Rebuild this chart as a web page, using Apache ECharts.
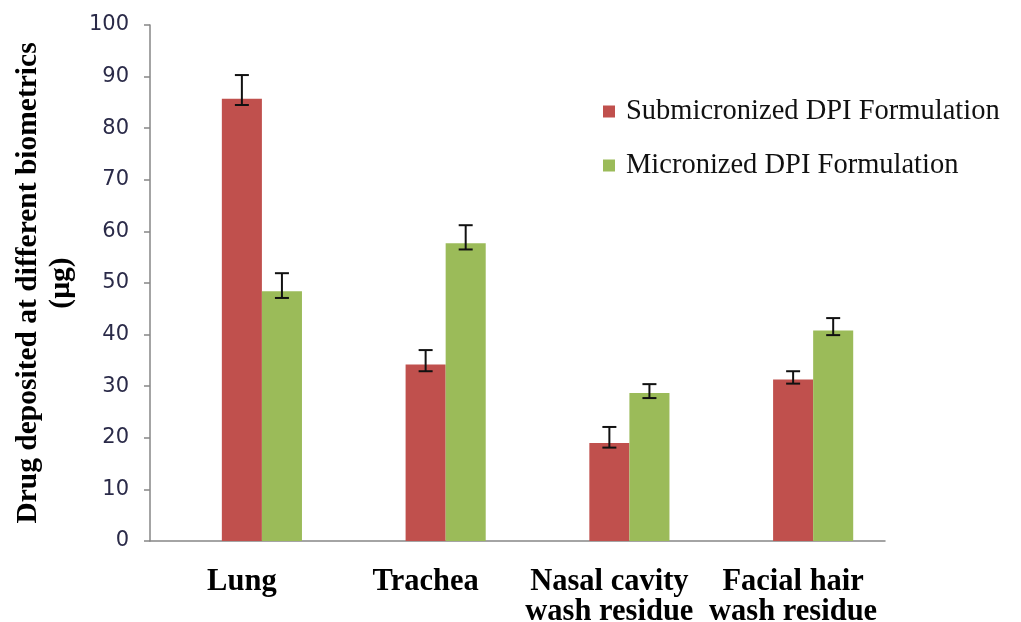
<!DOCTYPE html>
<html lang="en">
<head>
    <meta charset="UTF-8">
    <title>Drug deposition</title>
    <script src="https://cdn.jsdelivr.net/npm/echarts@6/dist/echarts.min.js"></script>
    <style>
        body { margin: 0; padding: 0; background: #fff; }
        #chart { width: 1021px; height: 622px; }
    </style>
</head>
<body>
<div id="chart"></div>
<script>
    const categories = ['Lung', 'Trachea', 'Nasal cavity\nwash residue', 'Facial hair\nwash residue'];

    const subValues = [85.7, 34.2, 19.0, 31.3];
    const subLow = [84.5, 32.9, 18.1, 30.5];
    const subHigh = [90.3, 37.0, 22.1, 32.9];

    const micValues = [48.4, 57.7, 28.7, 40.8];
    const micLow = [47.1, 56.5, 27.7, 39.9];
    const micHigh = [51.9, 61.2, 30.4, 43.2];

    const yTicks = [0, 10, 20, 30, 40, 50, 60, 70, 80, 90, 100];

    const catGap = 0.346;
    const serif = '"Liberation Serif", "Times New Roman", serif';

    // empty first slot in each group, so the red bar sits on the category centre
    const emptySlot = categories.map(() => '-');

    function errorBars(shift) {
        return function (params, api) {
            const band = api.size([1, 0])[0];
            const barW = band * (1 - catGap) / 3;
            const x = api.coord([api.value(0), 0])[0] + shift * barW;
            const lo = api.coord([api.value(0), api.value(1)])[1];
            const hi = api.coord([api.value(0), api.value(2)])[1];
            const half = 7;
            const style = { stroke: '#111', lineWidth: 2 };
            return {
                type: 'group',
                children: [
                    { type: 'line', shape: { x1: x, y1: lo, x2: x, y2: hi }, style: style },
                    { type: 'line', shape: { x1: x - half, y1: hi, x2: x + half, y2: hi }, style: style },
                    { type: 'line', shape: { x1: x - half, y1: lo, x2: x + half, y2: lo }, style: style }
                ]
            };
        };
    }

    const chart = echarts.init(document.getElementById('chart'));

    chart.setOption({
        animation: false,
        grid: { left: 150, right: 136, top: 25, bottom: 81, containLabel: false, outerBoundsMode: 'none' },
        legend: {
            data: ['Submicronized DPI Formulation', 'Micronized DPI Formulation'],
            orient: 'vertical',
            left: 598,
            top: 92,
            itemWidth: 12,
            itemHeight: 12,
            itemGap: 25,
            icon: 'rect',
            textStyle: { fontFamily: serif, fontSize: 28.5, color: '#111', padding: [0, 0, 0, 6] }
        },
        xAxis: {
            type: 'category',
            data: categories,
            axisLine: { lineStyle: { color: '#868686', width: 1.5 } },
            axisTick: { length: 8, lineStyle: { color: '#868686', width: 1.5 } },
            axisLabel: {
                interval: 0,
                margin: 26,
                fontFamily: serif,
                fontWeight: 'bold',
                fontSize: 30.5,
                lineHeight: 30,
                color: '#000'
            }
        },
        yAxis: {
            type: 'value',
            min: yTicks[0],
            max: yTicks[yTicks.length - 1],
            interval: 10,
            name: 'Drug deposited at different biometrics\n(µg)',
            nameLocation: 'middle',
            nameRotate: 90,
            nameGap: 64,
            nameTextStyle: {
                fontFamily: serif,
                fontWeight: 'bold',
                fontSize: 29.5,
                lineHeight: 33,
                color: '#000'
            },
            axisLine: { show: true, lineStyle: { color: '#868686', width: 1.5 } },
            axisTick: { show: true, length: 6, lineStyle: { color: '#868686', width: 1.5 } },
            splitLine: { show: false },
            axisLabel: {
                margin: 21,
                fontFamily: '"DejaVu Sans", sans-serif',
                fontSize: 21,
                color: '#2a2a48'
            }
        },
        series: [
            {
                name: 'spacer',
                type: 'bar',
                data: emptySlot,
                barGap: 0,
                barCategoryGap: (catGap * 100) + '%'
            },
            {
                name: 'Submicronized DPI Formulation',
                type: 'bar',
                data: subValues,
                itemStyle: { color: '#C0504D' },
                barGap: 0,
                barCategoryGap: (catGap * 100) + '%'
            },
            {
                name: 'Micronized DPI Formulation',
                type: 'bar',
                data: micValues,
                itemStyle: { color: '#9BBB59' },
                barGap: 0,
                barCategoryGap: (catGap * 100) + '%'
            },
            {
                type: 'custom',
                renderItem: errorBars(0),
                encode: { x: 0, y: [1, 2] },
                data: categories.map((c, i) => [i, subLow[i], subHigh[i]]),
                z: 10
            },
            {
                type: 'custom',
                renderItem: errorBars(1),
                encode: { x: 0, y: [1, 2] },
                data: categories.map((c, i) => [i, micLow[i], micHigh[i]]),
                z: 10
            }
        ]
    });
</script>
</body>
</html>
